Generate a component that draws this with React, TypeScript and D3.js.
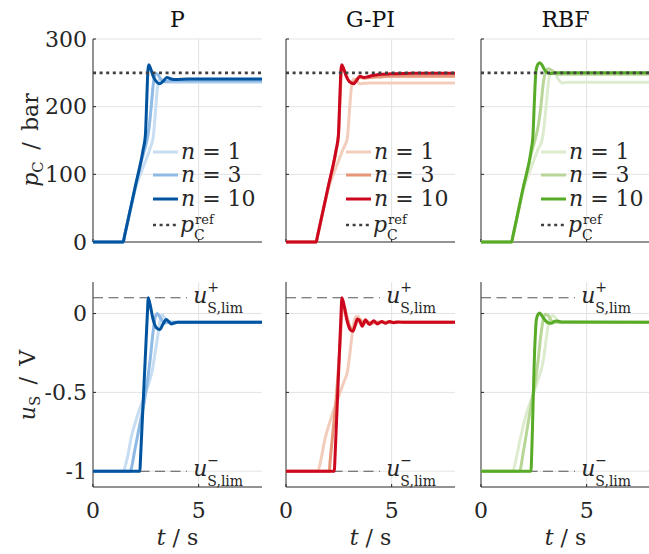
import React from 'react';
import * as d3 from 'd3';

type Pt = [number, number];

// ---------- data ----------
const panelTitles = ['P', 'G-PI', 'RBF'];
const nLabels = ['1', '3', '10'];
const colorsBlue = ['#C7DDF2', '#8EBAE5', '#00549F'];
const colorsRed = ['#F3CDBB', '#E69679', '#CC071E'];
const colorsGreen = ['#DDEBCE', '#B8D698', '#57AB27'];

const pTicks = [0, 100, 200, 300];
const uTicks = [-1, -0.5, 0];
const uTickLabels = ['-1', '-0.5', '0'];
const tTicks = [0, 5];
const pRef = 250;
const uLimPlus = 0.1;
const uLimMinus = -1;

// pressure p_C (bar) for P controller, n = 1, 3, 10
const pressP1: Pt[] = [[0, 0], [1.43, 0], [1.48, 7], [2.0, 78], [2.4, 113], [2.7, 138], [2.85, 155], [2.95, 190], [3.05, 228], [3.15, 241], [3.3, 239], [3.5, 236], [3.8, 236], [8, 236]];
const pressP3: Pt[] = [[0, 0], [1.43, 0], [1.48, 7], [2.0, 80], [2.3, 121], [2.5, 143], [2.65, 168], [2.75, 198], [2.85, 232], [2.95, 249], [3.05, 248], [3.2, 241], [3.4, 237], [3.7, 238], [8, 238]];
const pressP10: Pt[] = [[0, 0], [1.43, 0], [1.48, 7], [2.0, 82], [2.37, 136], [2.48, 158], [2.55, 215], [2.6, 254], [2.64, 262], [2.72, 257], [2.85, 245], [3.0, 237], [3.15, 234], [3.3, 237], [3.5, 243], [3.7, 241], [3.9, 240], [4.5, 241], [8, 241]];

// valve voltage u_S (V) for P controller
const volP1: Pt[] = [[0, -1], [1.43, -1], [1.6, -0.93], [1.82, -0.78], [2.06, -0.665], [2.25, -0.59], [2.45, -0.52], [2.65, -0.44], [2.83, -0.345], [2.95, -0.24], [3.08, -0.13], [3.18, -0.04], [3.27, -0.01], [3.4, -0.03], [3.6, -0.055], [8, -0.055]];
const volP3: Pt[] = [[0, -1], [1.75, -1], [2.0, -0.85], [2.25, -0.68], [2.48, -0.516], [2.7, -0.3], [2.85, -0.11], [2.95, -0.02], [3.05, 0.0], [3.2, -0.03], [3.4, -0.06], [3.6, -0.055], [8, -0.055]];
const volP10: Pt[] = [[0, -1], [2.22, -1], [2.24, -0.945], [2.59, 0.045], [2.61, 0.1], [2.68, 0.07], [2.85, -0.04], [3.0, -0.09], [3.16, -0.102], [3.3, -0.07], [3.47, -0.038], [3.58, -0.05], [3.71, -0.066], [3.85, -0.06], [4.0, -0.055], [8, -0.055]];

// G-PI controller
const pressG1: Pt[] = [[0, 0], [1.43, 0], [1.48, 7], [2.0, 78], [2.4, 113], [2.7, 137], [2.9, 153], [3.0, 192], [3.1, 230], [3.18, 241], [3.3, 240], [3.48, 234], [3.7, 234.5], [4.0, 235], [8, 235]];
const pressG3: Pt[] = [[0, 0], [1.43, 0], [1.48, 7], [2.0, 81], [2.37, 134], [2.48, 155], [2.56, 210], [2.62, 250], [2.67, 258], [2.75, 254], [2.9, 243], [3.05, 236], [3.2, 236], [3.35, 241], [3.5, 243], [3.7, 242], [4.0, 243], [4.5, 244], [5, 245], [8, 245]];
const pressG10: Pt[] = [[0, 0], [1.43, 0], [1.48, 7], [2.0, 82], [2.37, 136], [2.48, 158], [2.55, 215], [2.6, 254], [2.64, 262], [2.72, 257], [2.85, 245], [3.0, 237], [3.2, 234], [3.35, 239], [3.5, 245], [3.6, 244], [3.7, 243], [3.85, 244], [4.1, 246], [4.4, 247.5], [5, 248.5], [6, 249.5], [8, 249.5]];

const volG1: Pt[] = [[0, -1], [1.5, -1], [1.65, -0.93], [1.82, -0.81], [2.13, -0.665], [2.52, -0.516], [2.75, -0.43], [2.91, -0.367], [3.0, -0.28], [3.07, -0.2], [3.15, -0.11], [3.22, -0.05], [3.3, -0.022], [3.38, -0.017], [3.5, -0.035], [3.65, -0.055], [8, -0.055]];
const volG3: Pt[] = [[0, -1], [2.05, -1], [2.08, -0.95], [2.2, -0.78], [2.4, -0.5], [2.55, -0.22], [2.66, 0.02], [2.74, 0.05], [2.88, -0.02], [3.05, -0.09], [3.2, -0.1], [3.35, -0.055], [3.5, -0.04], [3.65, -0.07], [3.8, -0.05], [4.0, -0.062], [4.3, -0.055], [8, -0.055]];
const volG10: Pt[] = [[0, -1], [2.29, -1], [2.31, -0.945], [2.62, 0.045], [2.64, 0.1], [2.72, 0.07], [2.88, -0.04], [3.03, -0.1], [3.17, -0.113], [3.28, -0.07], [3.38, -0.035], [3.48, -0.045], [3.61, -0.08], [3.76, -0.04], [3.95, -0.07], [4.15, -0.045], [4.33, -0.066], [4.53, -0.05], [4.71, -0.062], [4.9, -0.05], [5.1, -0.058], [5.3, -0.053], [5.6, -0.056], [8, -0.055]];

// RBF controller
const pressR1: Pt[] = [[0, 0], [1.45, 0], [1.5, 7], [2.0, 77], [2.4, 112], [2.7, 137], [2.9, 152], [3.0, 175], [3.1, 207], [3.2, 238], [3.3, 251], [3.4, 254], [3.5, 250], [3.65, 241], [3.85, 235], [4.1, 236], [8, 236]];
const pressR3: Pt[] = [[0, 0], [1.45, 0], [1.5, 7], [2.0, 79], [2.35, 127], [2.55, 150], [2.7, 170], [2.85, 205], [2.95, 235], [3.05, 250], [3.18, 256], [3.32, 254], [3.5, 249], [3.7, 248], [8, 248]];
const pressR10: Pt[] = [[0, 0], [1.45, 0], [1.5, 7], [2.0, 81], [2.37, 135], [2.46, 158], [2.53, 210], [2.6, 252], [2.68, 262], [2.78, 265], [2.9, 261], [3.02, 254], [3.15, 250], [3.3, 249], [3.5, 250], [8, 250]];

const volR1: Pt[] = [[0, -1], [1.5, -1], [1.65, -0.93], [1.85, -0.8], [2.1, -0.66], [2.5, -0.5], [2.75, -0.4], [2.9, -0.33], [3.0, -0.25], [3.1, -0.15], [3.2, -0.06], [3.3, -0.02], [3.4, -0.012], [3.5, -0.022], [3.65, -0.05], [3.8, -0.058], [4.0, -0.055], [8, -0.055]];
const volR3: Pt[] = [[0, -1], [1.82, -1], [2.0, -0.88], [2.2, -0.72], [2.4, -0.56], [2.55, -0.45], [2.7, -0.3], [2.85, -0.12], [2.95, -0.035], [3.05, -0.005], [3.15, -0.008], [3.3, -0.04], [3.45, -0.055], [8, -0.055]];
const volR10: Pt[] = [[0, -1], [2.37, -1], [2.39, -0.93], [2.55, -0.2], [2.62, -0.04], [2.7, -0.005], [2.78, 0.003], [2.9, -0.018], [3.05, -0.045], [3.2, -0.06], [3.33, -0.062], [3.47, -0.05], [3.6, -0.047], [3.8, -0.054], [8, -0.055]];

// ---------- layout ----------
const W = 649;
const H = 554;
const colX = [93, 286, 481];
const panelW = 169;
const topY0 = 39, topY1 = 242;
const botY0 = 282, botY1 = 487;
const FONT = "'DejaVu Serif', serif";
const TXT = '#262626';
const GRID = '#e3e3e3';

const methods = [
  { title: panelTitles[0], colors: colorsBlue, press: [pressP1, pressP3, pressP10], vol: [volP1, volP3, volP10] },
  { title: panelTitles[1], colors: colorsRed, press: [pressG1, pressG3, pressG10], vol: [volG1, volG3, volG10] },
  { title: panelTitles[2], colors: colorsGreen, press: [pressR1, pressR3, pressR10], vol: [volR1, volR3, volR10] },
];

function Panel({ c }: { c: number }) {
  const m = methods[c];
  const x = d3.scaleLinear().domain([0, 8]).range([colX[c], colX[c] + panelW]);
  const yP = d3.scaleLinear().domain([0, 300]).range([topY1, topY0]);
  const yU = d3.scaleLinear().domain([-1.1, 0.2]).range([botY1, botY0]);
  const lineP = d3.line<Pt>().x(d => x(d[0])).y(d => yP(d[1])).curve(d3.curveMonotoneX);
  const lineU = d3.line<Pt>().x(d => x(d[0])).y(d => yU(d[1])).curve(d3.curveMonotoneX);
  const L = colX[c];
  const R = colX[c] + panelW;
  const cx = (L + R) / 2;
  const legY = [152, 175, 199];
  const refY = 225;
  const lx0 = L + 60, lx1 = L + 85, tx = L + 88;
  const limX = x(4.75);
  return (
    <g>
      <defs>
        <clipPath id={`clipT${c}`}><rect x={L} y={topY0 - 3} width={panelW} height={topY1 - topY0 + 6} /></clipPath>
        <clipPath id={`clipB${c}`}><rect x={L} y={botY0} width={panelW} height={botY1 - botY0 + 3} /></clipPath>
      </defs>
      {/* title */}
      <text x={cx} y={27} textAnchor="middle" fontSize={22} fill="#111">{m.title}</text>

      {/* ===== top panel ===== */}
      {pTicks.filter(v => v > 0).map(v => (
        <line key={'gp' + v} x1={L} x2={R} y1={yP(v)} y2={yP(v)} stroke={GRID} strokeWidth={1} />
      ))}
      {tTicks.filter(v => v > 0).map(v => (
        <line key={'gt' + v} x1={x(v)} x2={x(v)} y1={topY0} y2={topY1} stroke={GRID} strokeWidth={1} />
      ))}
      <line x1={L} x2={L} y1={topY0} y2={topY1} stroke={TXT} strokeWidth={1} />
      <line x1={L} x2={R} y1={topY1} y2={topY1} stroke={TXT} strokeWidth={1} />
      {pTicks.map(v => (
        <line key={'tp' + v} x1={L} x2={L + 3} y1={yP(v)} y2={yP(v)} stroke={TXT} />
      ))}
      {tTicks.map(v => (
        <line key={'tt' + v} x1={x(v)} x2={x(v)} y1={topY1} y2={topY1 - 3} stroke={TXT} />
      ))}
      <g clipPath={`url(#clipT${c})`}>
        {m.press.map((s, i) => (
          <path key={'p' + i} d={lineP(s) || ''} fill="none" stroke={m.colors[i]} strokeWidth={3} strokeLinejoin="round" />
        ))}
        <line x1={x(0)} x2={x(8)} y1={yP(pRef)} y2={yP(pRef)} stroke="#404040" strokeWidth={2.6} strokeDasharray="3,3.6" />
      </g>
      {c === 0 && pTicks.map(v => (
        <text key={'lp' + v} x={L - 6} y={yP(v) + 7.5} textAnchor="end" fontSize={22} fill={TXT}>{v}</text>
      ))}
      {/* legend */}
      {nLabels.map((n, i) => (
        <g key={'leg' + i}>
          <line x1={lx0} x2={lx1} y1={legY[i]} y2={legY[i]} stroke={m.colors[i]} strokeWidth={3} />
          <text x={tx} y={legY[i] + 7} fontSize={22} fill={TXT}>
            <tspan fontStyle="italic">n</tspan><tspan> = {n}</tspan>
          </text>
        </g>
      ))}
      <line x1={lx0} x2={lx1} y1={refY} y2={refY} stroke="#404040" strokeWidth={2.6} strokeDasharray="3,3.6" />
      <text x={tx - 1} y={refY + 7} fontSize={22} fill={TXT} fontStyle="italic">p</text>
      <text x={tx + 14} y={refY - 1} fontSize={13} fill={TXT}>ref</text>
      <text x={tx + 13} y={refY + 15} fontSize={14} fill={TXT}>C</text>

      {/* ===== bottom panel ===== */}
      {uTicks.map(v => (
        <line key={'gu' + v} x1={L} x2={R} y1={yU(v)} y2={yU(v)} stroke={GRID} strokeWidth={1} />
      ))}
      {tTicks.filter(v => v > 0).map(v => (
        <line key={'gtb' + v} x1={x(v)} x2={x(v)} y1={botY0} y2={botY1} stroke={GRID} strokeWidth={1} />
      ))}
      <line x1={L} x2={L} y1={botY0} y2={botY1} stroke={TXT} strokeWidth={1} />
      <line x1={L} x2={R} y1={botY1} y2={botY1} stroke={TXT} strokeWidth={1} />
      {uTicks.map(v => (
        <line key={'tu' + v} x1={L} x2={L + 3} y1={yU(v)} y2={yU(v)} stroke={TXT} />
      ))}
      {tTicks.map(v => (
        <line key={'ttb' + v} x1={x(v)} x2={x(v)} y1={botY1} y2={botY1 - 3} stroke={TXT} />
      ))}
      <line x1={x(0)} x2={x(4.45)} y1={yU(uLimPlus)} y2={yU(uLimPlus)} stroke="#555" strokeWidth={1.2} strokeDasharray="10,5.5" />
      <line x1={x(0)} x2={x(4.45)} y1={yU(uLimMinus)} y2={yU(uLimMinus)} stroke="#555" strokeWidth={1.2} strokeDasharray="10,5.5" />
      <g clipPath={`url(#clipB${c})`}>
        {m.vol.map((s, i) => (
          <path key={'u' + i} d={lineU(s) || ''} fill="none" stroke={m.colors[i]} strokeWidth={3} strokeLinejoin="round" />
        ))}
      </g>
      {/* limit labels */}
      <text x={limX} y={yU(uLimPlus) + 5} fontSize={22} fill={TXT} fontStyle="italic">u</text>
      <text x={limX + 14} y={yU(uLimPlus) - 6} fontSize={14} fill={TXT}>+</text>
      <text x={limX + 14} y={yU(uLimPlus) + 15} fontSize={14} fill={TXT}>S,lim</text>
      <text x={limX} y={yU(uLimMinus) + 5} fontSize={22} fill={TXT} fontStyle="italic">u</text>
      <text x={limX + 14} y={yU(uLimMinus) - 6} fontSize={14} fill={TXT}>{'\u2212'}</text>
      <text x={limX + 14} y={yU(uLimMinus) + 15} fontSize={14} fill={TXT}>S,lim</text>

      {c === 0 && uTicks.map((v, i) => (
        <text key={'lu' + v} x={L - 6} y={yU(v) + 7.5} textAnchor="end" fontSize={22} fill={TXT}>{uTickLabels[i]}</text>
      ))}
      {tTicks.map(v => (
        <text key={'lt' + v} x={x(v)} y={518} textAnchor="middle" fontSize={22} fill={TXT}>{v}</text>
      ))}
      <text x={cx} y={545} textAnchor="middle" fontSize={22} fill={TXT}>
        <tspan fontStyle="italic">t</tspan><tspan> / s</tspan>
      </text>
    </g>
  );
}

export default function App() {
  return (
    <svg width={W} height={H} style={{ position: 'absolute', left: 0, top: 0 }} fontFamily={FONT}>
      <rect width={W} height={H} fill="#fff" />
      {methods.map((_, c) => <Panel key={c} c={c} />)}
      <text transform="translate(38,140) rotate(-90)" textAnchor="middle" fontSize={22} fill={TXT}>
        <tspan fontStyle="italic">p</tspan><tspan fontSize={15} dy={5}>C</tspan><tspan dy={-5}>{'\u2009 / \u2009bar'}</tspan>
      </text>
      <text transform="translate(35,385) rotate(-90)" textAnchor="middle" fontSize={22} fill={TXT}>
        <tspan fontStyle="italic">u</tspan><tspan fontSize={15} dy={5}>S</tspan><tspan dy={-5}>{'\u2009 / \u2009V'}</tspan>
      </text>
    </svg>
  );
}
